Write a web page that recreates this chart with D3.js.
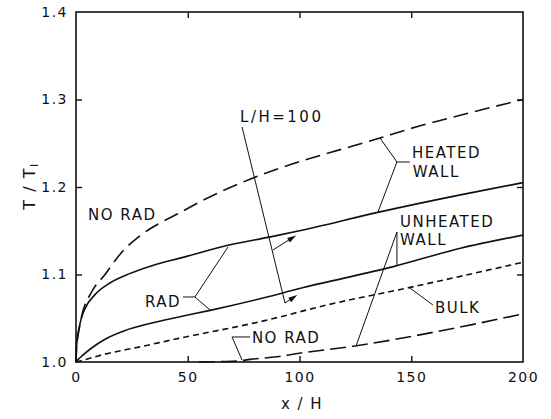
<!DOCTYPE html>
<html>
<head>
<meta charset="utf-8">
<script src="https://cdn.jsdelivr.net/npm/d3@7"></script>
<style>
  html, body { margin: 0; padding: 0; background: #fff; }
  svg { display: block; }
  text { font-family: "DejaVu Sans", sans-serif; fill: #111; }
</style>
</head>
<body>
<svg id="chart" width="551" height="419"></svg>
<script>
// Dimensionless temperature T/T_I along the channel, x/H
const xTickValues = [0, 50, 100, 150, 200];
const yTickValues = [1.0, 1.1, 1.2, 1.3, 1.4];

// Heated wall, no radiation
const heatedNoRadX = [0, 0.2, 0.6, 1.3, 2.7, 7, 13, 20, 28, 37, 46, 57, 76, 100, 120, 136, 150, 175, 200];
const heatedNoRadT = [1.0, 1.014, 1.025, 1.036, 1.054, 1.08, 1.10, 1.124, 1.143, 1.158, 1.170, 1.185, 1.207, 1.229, 1.244, 1.256, 1.267, 1.284, 1.30];

// Heated wall, with radiation
const heatedRadX = [0, 0.2, 0.6, 1.3, 2.5, 4, 8.5, 15, 24, 34, 47, 69, 87, 100, 135, 172, 200];
const heatedRadT = [1.0, 1.015, 1.027, 1.038, 1.051, 1.061, 1.077, 1.09, 1.101, 1.110, 1.119, 1.134, 1.143, 1.150, 1.171, 1.191, 1.205];

// Unheated wall, with radiation
const unheatedRadX = [0, 1, 2.7, 7, 13, 22, 33, 47, 60, 85, 100, 142, 172, 200];
const unheatedRadT = [1.0, 1.003, 1.007, 1.016, 1.026, 1.036, 1.044, 1.052, 1.059, 1.074, 1.084, 1.109, 1.130, 1.145];

// Bulk temperature
const bulkX = [0, 3, 13, 28, 46, 84, 112, 149, 200];
const bulkT = [1.0, 1.002, 1.009, 1.017, 1.027, 1.047, 1.065, 1.085, 1.114];

// Unheated wall, no radiation
const unheatedNoRadX = [55, 65, 72, 78, 90, 100, 124, 160, 200];
const unheatedNoRadT = [1.0, 1.0005, 1.001, 1.003, 1.006, 1.010, 1.018, 1.034, 1.055];

const svg = d3.select("#chart");
const x = d3.scaleLinear().domain([0, 200]).range([76, 523]);
const y = d3.scaleLinear().domain([1.0, 1.4]).range([362, 12]);

const zip = (xs, ts) => xs.map((v, i) => [v, ts[i]]);
const line = d3.line().x(d => x(d[0])).y(d => y(d[1])).curve(d3.curveMonotoneX);

// Frame
svg.append("rect")
  .attr("x", x(0)).attr("y", y(1.4))
  .attr("width", x(200) - x(0)).attr("height", y(1.0) - y(1.4))
  .attr("fill", "none").attr("stroke", "#111").attr("stroke-width", 1.6);

// Axes with inward ticks on all four sides
const tickLen = 6;
const bottomAxis = d3.axisBottom(x).tickValues(xTickValues).tickSizeInner(-tickLen).tickSizeOuter(0).tickPadding(10)
  .tickFormat(d3.format("d"));
const topAxis = d3.axisTop(x).tickValues(xTickValues.slice(1, -1)).tickSizeInner(-tickLen).tickSizeOuter(0).tickFormat("");
const leftAxis = d3.axisLeft(y).tickValues(yTickValues).tickSizeInner(-tickLen).tickSizeOuter(0).tickPadding(8)
  .tickFormat(d3.format(".1f"));
const rightAxis = d3.axisRight(y).tickValues(yTickValues.slice(1, -1)).tickSizeInner(-tickLen).tickSizeOuter(0).tickFormat("");

function styleAxis(g) {
  g.select(".domain").remove();
  g.selectAll(".tick line").attr("stroke", "#111").attr("stroke-width", 1.4);
  g.selectAll(".tick text").attr("font-size", 14).attr("fill", "#111")
    .attr("font-family", "DejaVu Sans, sans-serif").attr("letter-spacing", 1.5);
}
svg.append("g").attr("transform", `translate(0,${y(1.0)})`).call(bottomAxis).call(styleAxis);
svg.append("g").attr("transform", `translate(0,${y(1.4)})`).call(topAxis).call(styleAxis);
svg.append("g").attr("transform", `translate(${x(0)},0)`).call(leftAxis).call(styleAxis);
svg.append("g").attr("transform", `translate(${x(200)},0)`).call(rightAxis).call(styleAxis);
// remove the tick marks that coincide with the frame corners
svg.selectAll(".tick").filter(d => d === 0 || d === 200 || d === 1.0 || d === 1.4).select("line").remove();

// Curves
const curves = [
  { pts: zip(heatedNoRadX, heatedNoRadT), dash: "15,7" },
  { pts: zip(heatedRadX, heatedRadT), dash: null },
  { pts: zip(unheatedRadX, unheatedRadT), dash: null },
  { pts: zip(bulkX, bulkT), dash: "6,4" },
  { pts: zip(unheatedNoRadX, unheatedNoRadT), dash: "16,6" }
];
svg.append("g").selectAll("path").data(curves).join("path")
  .attr("d", d => line(d.pts))
  .attr("fill", "none").attr("stroke", "#111").attr("stroke-width", 1.6)
  .attr("stroke-dasharray", d => d.dash);

// Leader lines (data coordinates)
const leaders = [
  [[136, 1.256], [143.6, 1.2286], [135.1, 1.1714]],
  [[143.6, 1.2286], [149.4, 1.2286]],
  [[143.6, 1.1109], [143.6, 1.1486], [125.3, 1.0183]],
  [[47.9, 1.0743], [53.2, 1.0743]],
  [[68, 1.1314], [53.2, 1.0743], [60, 1.0594]],
  [[149.4, 1.0846], [159.7, 1.0651]],
  [[77.9, 1.0286], [69.8, 1.0286], [74.3, 1.0023]],
  [[74.3, 1.2686], [93.5, 1.0674]],
  [[88.1, 1.128], [96.5, 1.1415]],
  [[93.5, 1.0674], [97.5, 1.0742]]
];
const plain = d3.line().x(d => x(d[0])).y(d => y(d[1]));
svg.append("g").selectAll("path").data(leaders).join("path")
  .attr("d", plain).attr("fill", "none").attr("stroke", "#111").attr("stroke-width", 1);

// Arrowheads
function arrowHead(from, to) {
  const x1 = x(from[0]), y1 = y(from[1]), x2 = x(to[0]), y2 = y(to[1]);
  const a = Math.atan2(y2 - y1, x2 - x1);
  const L = 9, W = 2.6;
  const bx = x2 - L * Math.cos(a), by = y2 - L * Math.sin(a);
  const p = [[x2, y2], [bx + W * Math.sin(a), by - W * Math.cos(a)], [bx - W * Math.sin(a), by + W * Math.cos(a)]];
  svg.append("path").attr("d", "M" + p.map(q => q.join(",")).join("L") + "Z").attr("fill", "#111");
}
arrowHead([88.1, 1.128], [98.5, 1.1445]);
arrowHead([93.5, 1.0674], [99, 1.0765]);

// Labels
const labelSize = 15;
function label(txt, xv, tv, spacing) {
  svg.append("text").attr("x", x(xv)).attr("y", y(tv))
    .attr("font-size", labelSize).attr("letter-spacing", spacing || 1.5).text(txt);
}
label("NO RAD", 5.4, 1.1623);
label("L/H=100", 73.4, 1.2743, 2.5);
label("HEATED", 150.3, 1.2331);
label("WALL", 150.7, 1.2114);
label("UNHEATED", 145, 1.1543);
label("WALL", 145, 1.1337);
label("RAD", 30.9, 1.0629);
label("BULK", 160.6, 1.056);
label("NO RAD", 78.7, 1.0217);

// Axis titles
svg.append("text").attr("x", 302).attr("y", 409).attr("text-anchor", "middle")
  .attr("font-size", 15).attr("letter-spacing", 1.5).text("x / H");
const yt = svg.append("text").attr("transform", "translate(35,186) rotate(-90)")
  .attr("text-anchor", "middle").attr("font-size", 16).attr("letter-spacing", 1.5);
yt.append("tspan").text("T / T");
yt.append("tspan").attr("font-size", 11).attr("dy", 3).text("I");
</script>
</body>
</html>
